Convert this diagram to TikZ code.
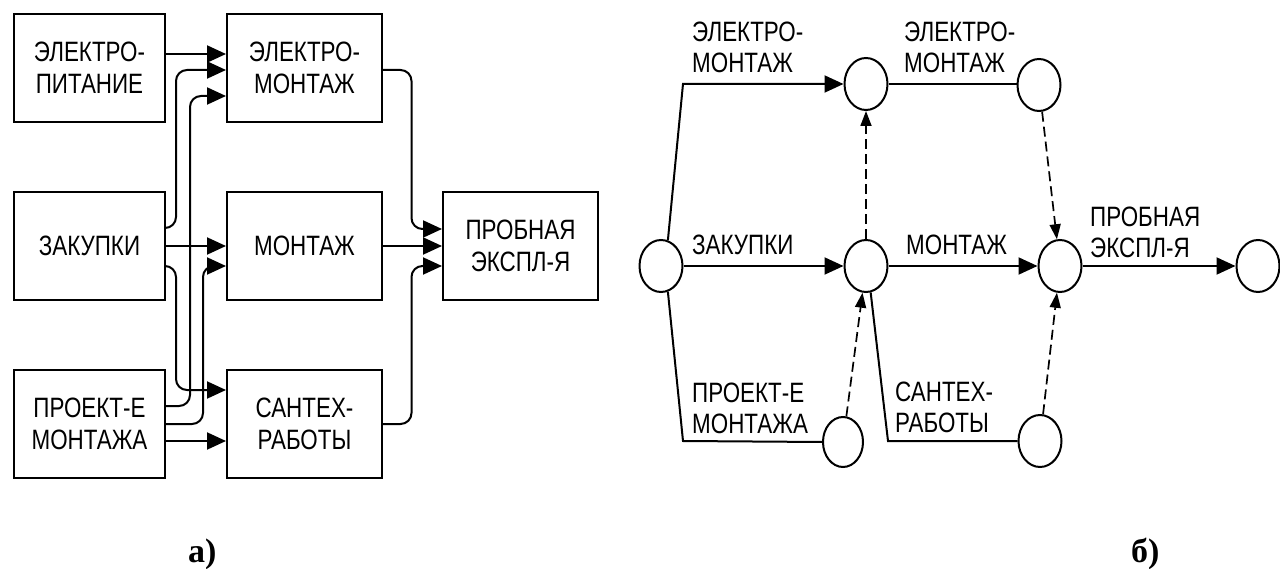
\documentclass[tikz,border=0pt]{standalone}
\usepackage{fontspec}
\setmainfont{Liberation Sans}[FakeStretch=0.8]
\newfontfamily\labfont{Liberation Serif}
\usetikzlibrary{arrows.meta,shapes.geometric}
\begin{document}
\begin{tikzpicture}[x=1pt,y=-1pt,
  box/.style={draw,line width=2pt,minimum width=153pt,minimum height=108pt,inner sep=0pt,align=center,text depth=0pt,font=\fontsize{28}{32}\selectfont},
  arr/.style={line width=2pt,-{Triangle[length=19pt,width=17pt]}},
  rarr/.style={line width=2pt,rounded corners=11pt,-{Triangle[length=19pt,width=17pt]}},
  ln/.style={line width=2pt},
  ev/.style={draw,ellipse,line width=2pt,minimum width=43pt,minimum height=52pt,inner sep=0pt},
  dar/.style={line width=1.7pt,dash pattern=on 10pt off 5pt,-{Triangle[length=15pt,width=11pt]}},
  lab/.style={font=\fontsize{28}{31}\selectfont,align=left,inner sep=0pt,anchor=base west},
  captext/.style={font=\labfont\bfseries\fontsize{34}{38}\selectfont,inner sep=0pt,anchor=base west}]
\useasboundingbox (0,0) rectangle (1280,569);
% ---------- a) ----------
\node[box,minimum width=151pt] (A) at (89.5,68) {ЭЛЕКТРО-\\ПИТАНИЕ};
\node[box,minimum width=155pt] (B) at (304.5,68) {ЭЛЕКТРО-\\МОНТАЖ};
\node[box,minimum width=151pt] (C) at (89.5,246) {ЗАКУПКИ};
\node[box,minimum width=155pt] (D) at (304.5,246) {МОНТАЖ};
\node[box,minimum width=151pt] (E) at (89.5,424) {ПРОЕКТ-Е\\МОНТАЖА};
\node[box,minimum width=155pt] (F) at (304.5,424) {САНТЕХ-\\РАБОТЫ};
\node[box,minimum width=155pt] (G) at (520.5,246) {ПРОБНАЯ\\ЭКСПЛ-Я};
\coordinate (x1) at (176,0);
\coordinate (x2) at (190,0);
\coordinate (x3) at (203,0);
\coordinate (x4) at (411.5,0);
\coordinate (Cb) at ([yshift=18pt]C.east);
\coordinate (Cf) at ([yshift=-20pt]C.east);
\coordinate (Eb) at ([yshift=18pt]E.east);
\coordinate (Bc) at ([yshift=-2pt]B.west);
\coordinate (Be) at ([yshift=-28pt]B.west);
\coordinate (De) at ([yshift=-20pt]D.west);
\coordinate (Fc) at ([yshift=34pt]F.west);
\coordinate (Bg) at ([yshift=-2pt]B.east);
\coordinate (Gb) at ([yshift=17pt]G.west);
\coordinate (Gf) at ([yshift=-20pt]G.west);
\draw[arr] ([yshift=14pt]A.east) -- ([yshift=14pt]B.west);
\draw[rarr] (Cb) -| (x1 |- Bc) -- (Bc);
\draw[arr] (C.east) -- (D.west);
\draw[rarr] (Cf) -| (x1 |- Fc) -- (Fc);
\draw[rarr] (Eb) -| (x2 |- Be) -- (Be);
\draw[rarr] (E.east) -| (x3 |- De) -- (De);
\draw[arr] ([yshift=-17pt]E.east) -- ([yshift=-17pt]F.west);
\draw[rarr] (Bg) -| (x4 |- Gb) -- (Gb);
\draw[arr] (D.east) -- (G.west);
\draw[rarr] (F.east) -| (x4 |- Gf) -- (Gf);
% ---------- b) ----------
\node[ev] (S) at (661,266) {};
\node[ev] (N1) at (866,84) {};
\node[ev] (N2) at (1039,85) {};
\node[ev] (N3) at (866,266) {};
\node[ev] (N4) at (1060,266) {};
\node[ev] (N5) at (1258,266) {};
\node[ev,minimum width=40pt,minimum height=50pt] (N6) at (843,442) {};
\node[ev] (N7) at (1040,441) {};
\coordinate (k1) at (683,84);
\coordinate (k2) at (683,441);
\coordinate (k3) at (888,441);
\draw[arr] (S.75) -- (k1) -- (N1.west);
\draw[arr] (S.east) -- (N3.west);
\draw[ln] (S.-75) -- (k2) -- (N6.west);
\draw[ln] (N1.east) -- (N2.west |- N1.east);
\draw[arr] (N3.east) -- (N4.west);
\draw[ln] (N3.-80) -- (k3) -- (N7.west);
\draw[arr] (N4.east) -- (N5.west);
\draw[dar] (N3) -- (N1);
\draw[dar] (N6) -- (N3);
\draw[dar] (N2) -- (N4);
\draw[dar] (N7) -- (N4);
\node[lab] (L1) at (692,73) {ЭЛЕКТРО-\\МОНТАЖ};
\node[lab] (L2) at (904,73) {ЭЛЕКТРО-\\МОНТАЖ};
\node[lab] (L3) at (692,255) {ЗАКУПКИ};
\node[lab] (L4) at (906,255) {МОНТАЖ};
\node[lab] (L5) at (1090,258) {ПРОБНАЯ\\ЭКСПЛ-Я};
\node[lab] (L6) at (692,433) {ПРОЕКТ-Е\\МОНТАЖА};
\node[lab] (L7) at (895,432) {САНТЕХ-\\РАБОТЫ};
% ---------- captions ----------
\node[captext] (ca) at (188,562) {а)};
\node[captext] (cb) at (1131,562) {б)};
\end{tikzpicture}
\end{document}
